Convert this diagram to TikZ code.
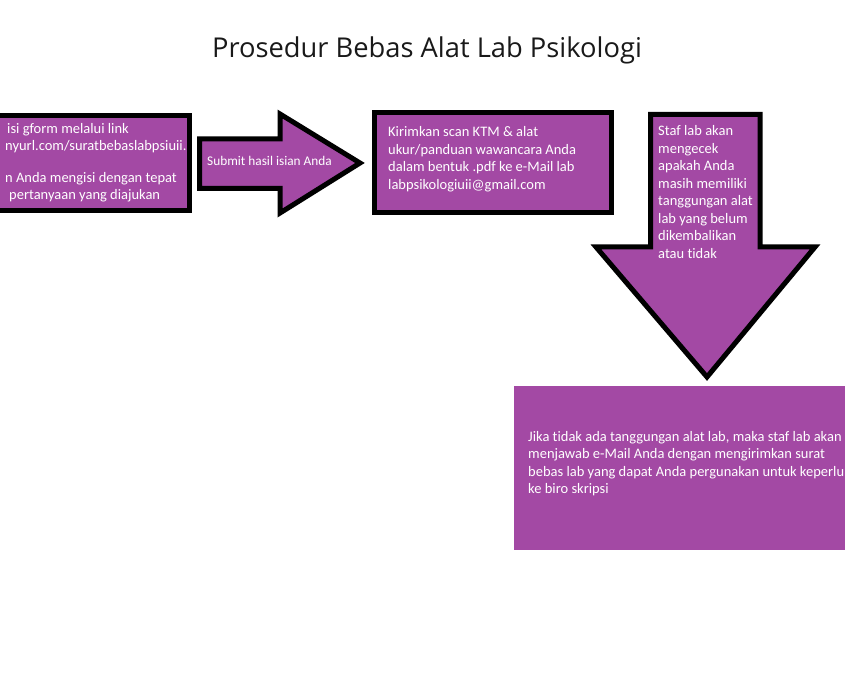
\documentclass[tikz,border=0pt]{standalone}
\usepackage{fontspec}
\setmainfont{Carlito}[Ligatures=NoCommon]
\newfontfamily\titlefont{Open Sans}
\definecolor{pur}{HTML}{A349A4}
\begin{document}
\begin{tikzpicture}[x=1pt,y=-1pt,
  blk/.style={fill=pur,draw=black,line width=5pt,line join=miter},
  txt/.style={text=white,font=\fontsize{14.5}{17.5}\selectfont,inner sep=0pt,anchor=base west}]
\useasboundingbox (0,0) rectangle (845,684);
\clip (0,0) rectangle (845,684);
\node[font=\titlefont\fontsize{27.3}{32}\selectfont,text=black!90] (title) at (427,50) {Prosedur Bebas Alat Lab Psikologi};
% shapes
\draw[blk] (-10,115.5) rectangle (189.5,210.5);
\draw[blk] (199.5,139) -- (280,139) -- (280,114) -- (360,163) -- (280,213) -- (280,188.5) -- (199.5,188.5) -- cycle;
\draw[blk] (374,112.5) rectangle (611.5,212.5);
\draw[blk] (650.5,114.5) -- (760,114.5) -- (760,247) -- (815,247) -- (707,377) -- (596,247) -- (650.5,247) -- cycle;
\fill[pur] (514,386) rectangle (850,550);
% texts
\node[txt] (t1a) at (7,134) {isi gform melalui link};
\node[txt] (t1b) at (5,151) {nyurl.com/suratbebaslabpsiuii.};
\node[txt] (t1c) at (5,183) {n Anda mengisi dengan tepat};
\node[txt] (t1d) at (9,200) {pertanyaan yang diajukan};
\node[txt,font=\fontsize{13.3}{16}\selectfont] (t2) at (207,166) {Submit hasil isian Anda};
\foreach \s [count=\i from 0] in {Kirimkan scan KTM \& alat,ukur/panduan wawancara Anda,dalam bentuk .pdf ke e-Mail lab,labpsikologiuii@gmail.com}
  \node[txt] (t3-\i) at (388,137+17.5*\i) {\s};
\foreach \s [count=\i from 0] in {Staf lab akan,mengecek,apakah Anda,masih memiliki,tanggungan alat,lab yang belum,dikembalikan,atau tidak}
  \node[txt] (t4-\i) at (658,136+17.5*\i) {\s};
\foreach \s [count=\i from 0] in {{Jika tidak ada tanggungan alat lab, maka staf lab akan},menjawab e-Mail Anda dengan mengirimkan surat,bebas lab yang dapat Anda pergunakan untuk keperlu,ke biro skripsi}
  \node[txt] (t5-\i) at (528,441+17.5*\i) {\s};
\end{tikzpicture}
\end{document}
